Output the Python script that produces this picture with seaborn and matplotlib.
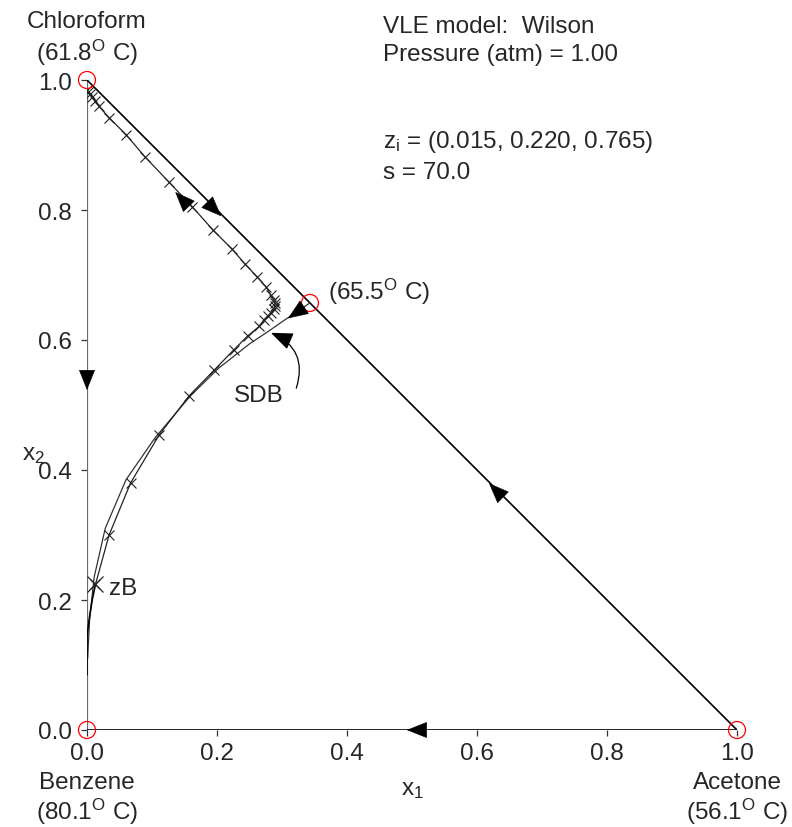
import numpy as np
import pandas as pd
import matplotlib
matplotlib.use("Agg")
import matplotlib.pyplot as plt
import seaborn as sns

# =========================
# Data (x1 = acetone, x2 = chloroform)
# =========================
# residue curve through zB (with x markers)
rc_x1 = [0.000, 0.002, 0.004, 0.008, 0.012, 0.018, 0.034, 0.060, 0.089, 0.126,
         0.162, 0.194, 0.223, 0.243, 0.262, 0.276, 0.283, 0.287, 0.289, 0.289,
         0.287, 0.283, 0.278, 0.272, 0.265, 0.247, 0.226, 0.196, 0.157, 0.111,
         0.067, 0.034, 0.013]
rc_x2 = [0.985, 0.981, 0.978, 0.974, 0.968, 0.960, 0.942, 0.916, 0.882, 0.843,
         0.805, 0.769, 0.740, 0.717, 0.697, 0.681, 0.669, 0.662, 0.657, 0.652,
         0.647, 0.642, 0.637, 0.631, 0.621, 0.606, 0.585, 0.554, 0.514, 0.454,
         0.380, 0.300, 0.224]
# tail of the residue curve towards benzene (no markers)
tail_x1 = [0.013, 0.008, 0.004, 0.001, 0.000, 0.000]
tail_x2 = [0.224, 0.200, 0.175, 0.152, 0.140, 0.085]

# separatrix SDB from the azeotrope
sdb_x1 = [0.343, 0.300, 0.280, 0.250, 0.203, 0.160, 0.105, 0.060, 0.028, 0.011, 0.004, 0.001]
sdb_x2 = [0.657, 0.628, 0.614, 0.594, 0.557, 0.515, 0.450, 0.385, 0.310, 0.235, 0.170, 0.110]

# singular points: pure components and azeotrope
sp_x1 = [0.0, 1.0, 0.0, 0.343]
sp_x2 = [0.0, 0.0, 1.0, 0.657]

# direction arrows (position, direction)
arr_x1 = [0.198, 0.627, 0.504, 0.000, 0.144, 0.319]
arr_x2 = [0.799, 0.371, 0.000, 0.535, 0.819, 0.640]
arr_dx = [1.0, -1.0, -1.0, 0.0, -1.0, -1.0]
arr_dy = [-1.0, 1.0, 0.0, -1.0, 1.05, -0.68]

ticks = [0.0, 0.2, 0.4, 0.6, 0.8, 1.0]
tick_labels = ["0.0", "0.2", "0.4", "0.6", "0.8", "1.0"]

# =========================
# Style
# =========================
sns.set_style("white")
plt.rcParams["font.family"] = ["Liberation Sans", "DejaVu Sans"]
plt.rcParams["mathtext.fontset"] = "custom"
plt.rcParams["mathtext.rm"] = "Liberation Sans"
plt.rcParams["mathtext.it"] = "Liberation Sans:italic"
FS = 17.5

fig = plt.figure(figsize=(7.92, 8.28), dpi=100)
ax = fig.add_axes([87 / 792, 97 / 828, 650 / 792, 650 / 828])
ax.set_xlim(0, 1)
ax.set_ylim(0, 1)
for s in ax.spines.values():
    s.set_visible(False)

# triangle edges
ax.plot([0, 0], [0, 1], color="#6a6a6a", lw=1.6, zorder=1)
ax.plot([0, 1], [0, 0], color="black", lw=1.2, zorder=1)
ax.plot([0, 1], [1, 0], color="black", lw=1.2, zorder=1)

# curves
rc = pd.DataFrame({"x1": rc_x1, "x2": rc_x2})
tail = pd.DataFrame({"x1": tail_x1, "x2": tail_x2})
sdb = pd.DataFrame({"x1": sdb_x1, "x2": sdb_x2})

sns.lineplot(data=sdb, x="x1", y="x2", sort=False, estimator=None,
             color="#333333", lw=0.9, ax=ax, zorder=2)
sns.lineplot(data=rc, x="x1", y="x2", sort=False, estimator=None,
             color="#222222", lw=0.9, marker="x", markersize=7,
             markeredgewidth=0.8, markeredgecolor="#222222", ax=ax, zorder=3)
sns.lineplot(data=tail, x="x1", y="x2", sort=False, estimator=None,
             color="black", lw=1.2, ax=ax, zorder=3)
# bigger marker at zB
ax.plot(rc_x1[-1], rc_x2[-1], marker="x", markersize=11, mew=0.9,
        color="#222222", zorder=4)

sp = pd.DataFrame({"x1": sp_x1, "x2": sp_x2})
sns.scatterplot(data=sp, x="x1", y="x2", s=150, facecolor="none",
                edgecolor="red", linewidth=0.9, ax=ax, zorder=5, clip_on=False)

# arrowheads
for x, y, dx, dy in zip(arr_x1, arr_x2, arr_dx, arr_dy):
    n = np.hypot(dx, dy)
    ux, uy = dx / n, dy / n
    ax.annotate("", xy=(x + 0.012 * ux, y + 0.012 * uy),
                xytext=(x - 0.002 * ux, y - 0.002 * uy),
                arrowprops=dict(arrowstyle="-|>,head_length=0.9,head_width=0.36",
                                color="black", lw=0.5, shrinkA=0, shrinkB=0,
                                mutation_scale=15),
                zorder=6, annotation_clip=False)

# SDB curved pointer
ax.annotate("", xy=(0.283, 0.611), xytext=(0.322, 0.526),
            arrowprops=dict(arrowstyle="-|>,head_length=0.9,head_width=0.36",
                            connectionstyle="arc3,rad=0.45", color="black",
                            lw=0.9, shrinkA=0, shrinkB=0, mutation_scale=15),
            zorder=6)

# ticks
ax.set_xticks(ticks)
ax.set_xticklabels(tick_labels)
ax.set_yticks(ticks)
ax.set_yticklabels(tick_labels)
ax.tick_params(axis="both", direction="out", length=4, width=0.9,
               color="#333333", labelsize=FS, bottom=True, left=True)
ax.tick_params(axis="x", pad=5)
ax.tick_params(axis="y", pad=7)
ax.set_xlabel("")
ax.set_ylabel("")

# labels
deg = r"$^{\mathrm{O}}$"
ax.text(0.50, -0.091, "x$_1$", fontsize=FS, ha="center", va="center")
ax.text(-0.082, 0.425, "x$_2$", fontsize=FS, ha="center", va="center")

ax.text(0.0, 1.091, "Chloroform", fontsize=FS, ha="center", va="center")
ax.text(0.0, 1.043, "(61.8" + deg + " C)", fontsize=FS, ha="center", va="center")
ax.text(0.0, -0.080, "Benzene", fontsize=FS, ha="center", va="center")
ax.text(0.0, -0.125, "(80.1" + deg + " C)", fontsize=FS, ha="center", va="center")
ax.text(1.0, -0.080, "Acetone", fontsize=FS, ha="center", va="center")
ax.text(1.0, -0.125, "(56.1" + deg + " C)", fontsize=FS, ha="center", va="center")
ax.text(0.371, 0.675, "(65.5" + deg + " C)", fontsize=FS, ha="left", va="center")

ax.text(0.455, 1.083, "VLE model:  Wilson", fontsize=FS, ha="left", va="center")
ax.text(0.455, 1.040, "Pressure (atm) = 1.00", fontsize=FS, ha="left", va="center")
ax.text(0.455, 0.906, r"z$_\mathrm{i}$ = (0.015, 0.220, 0.765)", fontsize=FS,
        ha="left", va="center")
ax.text(0.455, 0.858, "s = 70.0", fontsize=FS, ha="left", va="center")

ax.text(0.265, 0.515, "SDB", fontsize=FS, ha="center", va="center")
ax.text(0.034, 0.218, "zB", fontsize=FS, ha="left", va="center")

fig.savefig("out.png", dpi=100)
